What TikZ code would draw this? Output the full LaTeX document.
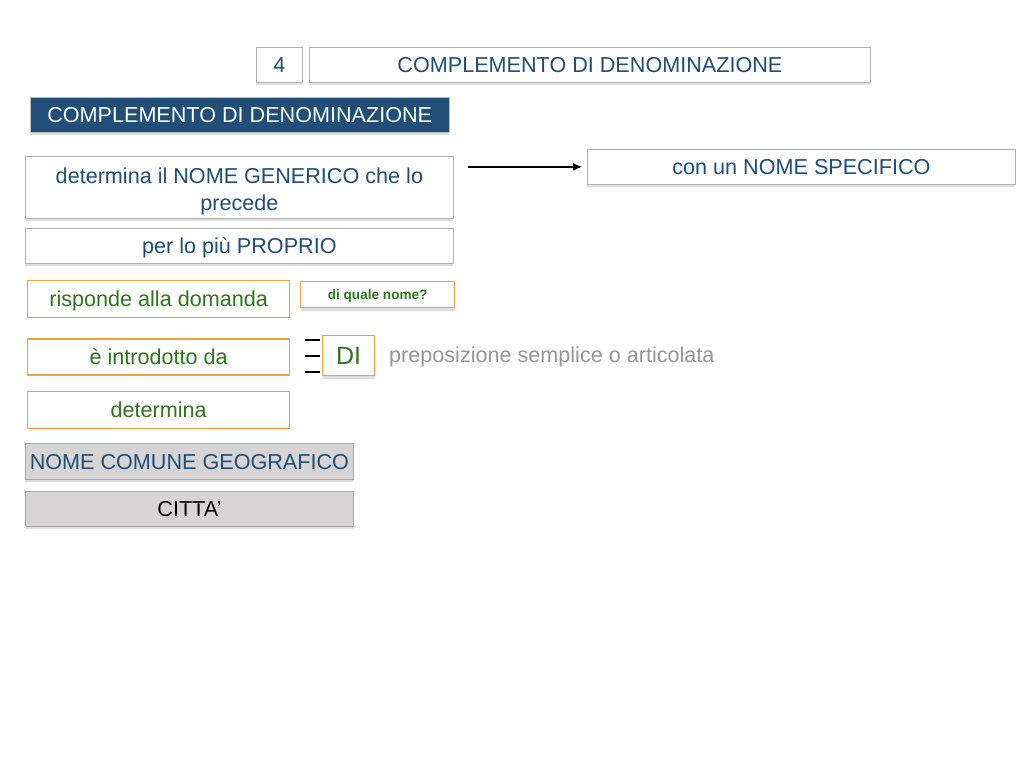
\documentclass[tikz,border=0pt]{standalone}
\usepackage{fontspec}
\setmainfont{Liberation Sans}
\usetikzlibrary{positioning,shadows,arrows.meta}

\definecolor{headblue}{RGB}{31,78,121}
\definecolor{txtgreen}{RGB}{46,118,30}
\definecolor{boxorange}{RGB}{242,160,62}
\definecolor{boxgray}{RGB}{214,212,213}
\definecolor{preptxt}{RGB}{150,150,150}

\tikzset{
  softshadow/.style={drop shadow={opacity=0.25, shadow xshift=0pt, shadow yshift=-3pt}},
  captext/.style={text height=15.5pt, text depth=0pt},
  whitebox/.style={draw=black!30, fill=white, line width=0.8pt, inner sep=0pt,
    text=headblue, font=\fontsize{21.6}{27}\selectfont, captext, softshadow},
  headbox/.style={fill=headblue, draw=black!25, inner sep=0pt, text=white,
    font=\fontsize{21.6}{25}\selectfont, captext, softshadow},
  orangebox/.style={draw=boxorange, fill=white, line width=1.3pt, inner sep=0pt,
    text=txtgreen, font=\fontsize{21.6}{25}\selectfont, captext},
  graybox/.style={draw=black!35, fill=boxgray, line width=0.8pt, inner sep=0pt,
    font=\fontsize{21.6}{25}\selectfont, captext, softshadow}
}

\begin{document}
\begin{tikzpicture}[x=1pt,y=-1pt]
  \useasboundingbox (0,0) rectangle (1024,768);

  % title bar
  \node[whitebox, anchor=north west, minimum width=46pt, minimum height=35pt] (num) at (256,47) {4};
  \node[whitebox, anchor=north west, minimum width=561pt, minimum height=35pt] (title) at (309,47) {COMPLEMENTO DI DENOMINAZIONE};
  \node[headbox, anchor=north west, minimum width=419pt, minimum height=35pt] (head) at (30,97) {COMPLEMENTO DI DENOMINAZIONE};

  % definition
  \node[whitebox, anchor=north west, minimum width=428pt, minimum height=62pt, align=center, text height=45.5pt] (gen) at (25,156) {determina il NOME GENERICO che lo\\precede};
  \node[whitebox, minimum width=428pt, minimum height=35pt] (prop) [below=9pt of gen] {per lo più PROPRIO};
  \node[whitebox, anchor=north west, minimum width=428pt, minimum height=35pt] (spec) at (587,149) {con un NOME SPECIFICO};
  \draw[-{Latex[length=9pt,width=8pt]}, line width=1.2pt, shorten <=14pt, shorten >=5pt] (gen.east |- spec.west) -- (spec.west);

  % analysis
  \node[orangebox, anchor=north west, minimum width=262pt, minimum height=37pt] (risp) at (27,280) {risponde alla domanda};
  \node[orangebox, anchor=north west, minimum width=154pt, minimum height=26pt, font=\fontsize{13.6}{15}\selectfont\bfseries, text height=9.8pt, softshadow] (quale) at (300,281) {di quale nome?};
  \node[orangebox, minimum width=262pt, minimum height=36pt] (intro) [below=20pt of risp] {è introdotto da};
  \node[orangebox, anchor=north west, minimum width=52pt, minimum height=40pt, font=\fontsize{25}{28}\selectfont, text height=18pt, softshadow] (di) at (322,335) {DI};
  \foreach \dy in {-5,-21,-37}
    \draw[line width=1.3pt] ([xshift=-17pt,yshift=\dy pt]di.north west) -- ++(15,0);
  \node[anchor=west, inner sep=0pt, text=preptxt, font=\fontsize{21.6}{25}\selectfont, captext] (prep) at (389,355) {preposizione semplice o articolata};
  \node[orangebox, minimum width=262pt, minimum height=37pt] (det) [below=15pt of intro] {determina};

  % examples
  \node[graybox, anchor=north west, minimum width=328pt, minimum height=36pt, text=headblue] (geo) at (25,443) {NOME COMUNE GEOGRAFICO};
  \node[graybox, minimum width=328pt, minimum height=35pt, text=black] (citta) [below=11pt of geo] {CITTA’};
\end{tikzpicture}
\end{document}
